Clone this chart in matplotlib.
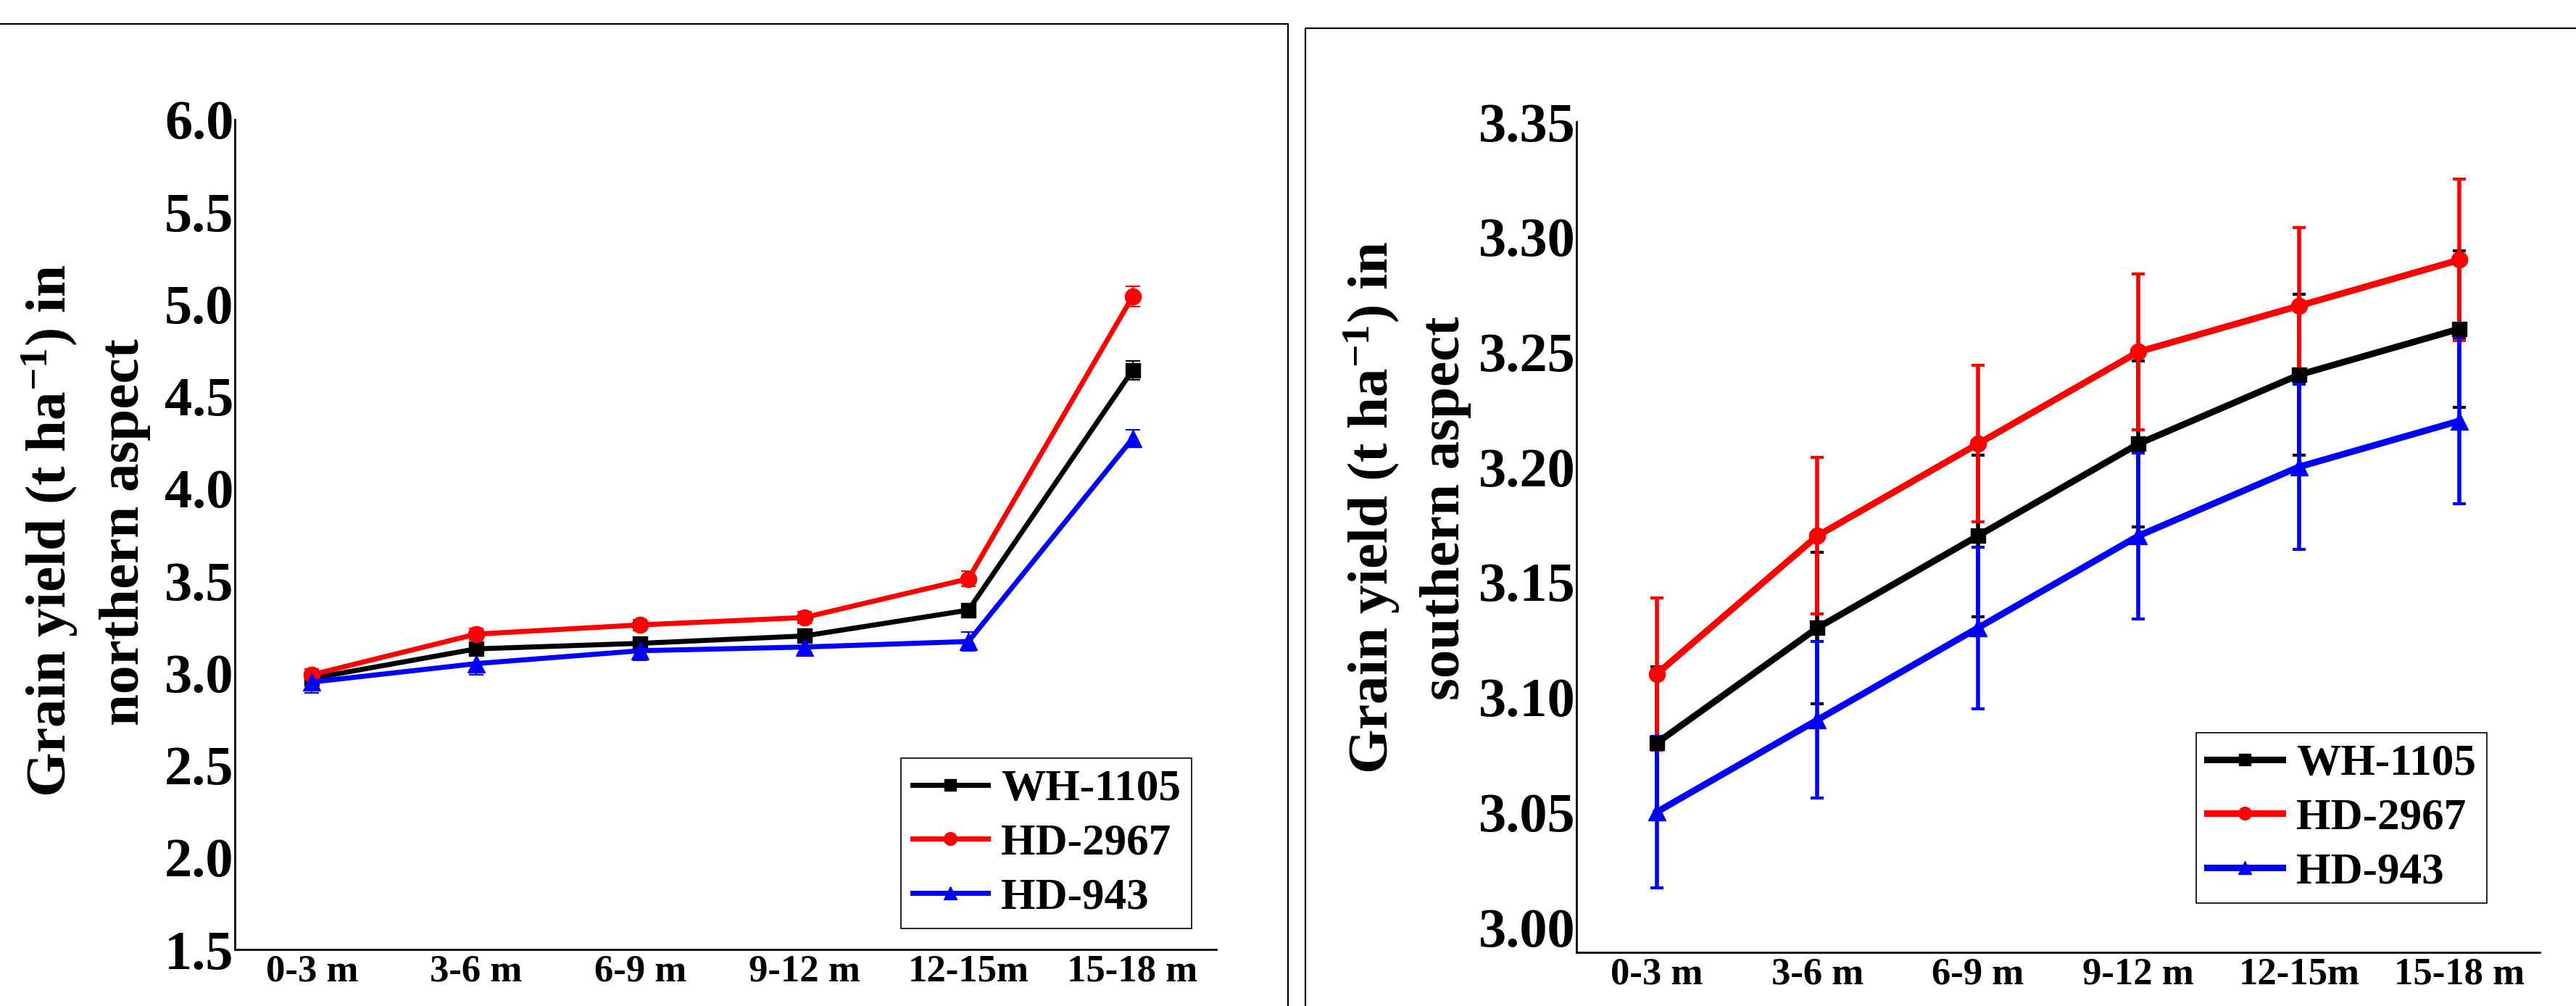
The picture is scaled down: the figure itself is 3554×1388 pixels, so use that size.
import matplotlib
matplotlib.use("Agg")
import matplotlib.pyplot as plt
from matplotlib.lines import Line2D

# DATA
distances = ["0-3 m", "3-6 m", "6-9 m", "9-12 m", "12-15m", "15-18 m"]
varieties = ["WH-1105", "HD-2967", "HD-943"]

north_wh1105 = [2.97, 3.13, 3.16, 3.20, 3.34, 4.64]
north_hd2967 = [2.99, 3.21, 3.26, 3.30, 3.51, 5.04]
north_hd943 = [2.95, 3.05, 3.12, 3.14, 3.17, 4.27]
north_err_wh1105 = [0.03, 0.03, 0.03, 0.03, 0.03, 0.05]
north_err_hd2967 = [0.03, 0.03, 0.03, 0.03, 0.04, 0.055]
north_err_hd943 = [0.06, 0.06, 0.05, 0.05, 0.05, 0.046]

south_wh1105 = [3.08, 3.13, 3.17, 3.21, 3.24, 3.26]
south_hd2967 = [3.11, 3.17, 3.21, 3.25, 3.27, 3.29]
south_hd943 = [3.05, 3.09, 3.13, 3.17, 3.20, 3.22]
south_err_wh1105 = [0.033, 0.033, 0.035, 0.036, 0.035, 0.034]
south_err_hd2967 = [0.033, 0.034, 0.034, 0.034, 0.034, 0.035]
south_err_hd943 = [0.033, 0.034, 0.035, 0.036, 0.036, 0.036]

north_ticks = [1.5, 2.0, 2.5, 3.0, 3.5, 4.0, 4.5, 5.0, 5.5, 6.0]
south_ticks = [3.00, 3.05, 3.10, 3.15, 3.20, 3.25, 3.30, 3.35]

ylabel_top = "Grain yield (t ha$^{-1}$) in"
ylabel_north = "northern aspect"
ylabel_south = "southern aspect"

colors = ["black", "#ff0000", "#0000ff"]
markers = ["s", "o", "^"]
msizes = [14, 16, 17]

plt.rcParams["font.family"] = ["Liberation Serif", "DejaVu Serif"]
plt.rcParams["font.weight"] = "bold"
plt.rcParams["mathtext.fontset"] = "custom"
plt.rcParams["mathtext.rm"] = "Liberation Serif:bold"
plt.rcParams["mathtext.bf"] = "Liberation Serif:bold"
plt.rcParams["mathtext.it"] = "Liberation Serif:bold"

W, H = 3555, 1388
fig = plt.figure(figsize=(W / 100, H / 100), dpi=100)

# panel frames
fig.add_artist(Line2D([0, 1777 / W, 1777 / W], [1 - 33 / H, 1 - 33 / H, 0], color="black", lw=1.6, transform=fig.transFigure))
fig.add_artist(Line2D([1801 / W, 1801 / W, 1], [0, 1 - 39 / H, 1 - 39 / H], color="black", lw=1.6, transform=fig.transFigure))


def make_panel(rect, series, errs, ticks, ylim, xlim, lw, elw, capsize, capthick, leg_anchor, tickfmt):
    ax = fig.add_axes(rect)
    x = list(range(len(distances)))
    for i in range(3):
        ax.errorbar(x, series[i], yerr=errs[i], color=colors[i], marker=markers[i],
                    markersize=msizes[i], lw=lw, elinewidth=elw, capsize=capsize,
                    capthick=capthick, label=varieties[i])
    ax.set_xlim(xlim)
    ax.set_ylim(ylim)
    ax.set_xticks(x)
    ax.set_xticklabels(distances, fontsize=38, fontweight="bold")
    ax.set_yticks(ticks)
    ax.set_yticklabels([tickfmt.format(t) for t in ticks], fontsize=55, fontweight="bold")
    ax.tick_params(axis="y", length=0, pad=1)
    ax.tick_params(axis="x", length=0, pad=5)
    for s in ["top", "right"]:
        ax.spines[s].set_visible(False)
    for s in ["left", "bottom"]:
        ax.spines[s].set_linewidth(2)
    handles, labels = ax.get_legend_handles_labels()
    handles = [h[0] for h in handles]
    leg = ax.legend(handles, labels, loc="lower right", bbox_to_anchor=leg_anchor,
                    borderaxespad=0, fancybox=False, framealpha=1, edgecolor="black",
                    prop={"family": "Liberation Serif", "weight": "bold", "size": 44},
                    handlelength=1.7, handletextpad=0.3, labelspacing=0.3,
                    borderpad=0.25, markerscale=0.8)
    leg.get_frame().set_linewidth(1.2)
    return ax


make_panel([324 / W, 1 - 1310 / H, 1354 / W, 1145 / H],
           [north_wh1105, north_hd2967, north_hd943],
           [north_err_wh1105, north_err_hd2967, north_err_hd943],
           north_ticks, (1.5, 6.0), (-0.47, 5.51), 5, 1.5, 7.5, 1.5,
           (0.975, 0.025), "{:.1f}")

make_panel([2175 / W, 1 - 1314 / H, 1329 / W, 1146 / H],
           [south_wh1105, south_hd2967, south_hd943],
           [south_err_wh1105, south_err_hd2967, south_err_hd943],
           south_ticks, (2.989, 3.35), (-0.5, 5.5), 6.5, 4, 6.5, 3,
           (0.945, 0.059), "{:.2f}")

# two-line y labels, one text per line
for (xpx, ypx, txt) in [(69, 732, ylabel_top), (172, 734, ylabel_north),
                        (1893, 700, ylabel_top), (1995, 701, ylabel_south)]:
    fig.text(xpx / W, 1 - ypx / H, txt, rotation=90, ha="center", va="center",
             fontsize=57, fontweight="bold")

fig.savefig("out.png", dpi=100)
